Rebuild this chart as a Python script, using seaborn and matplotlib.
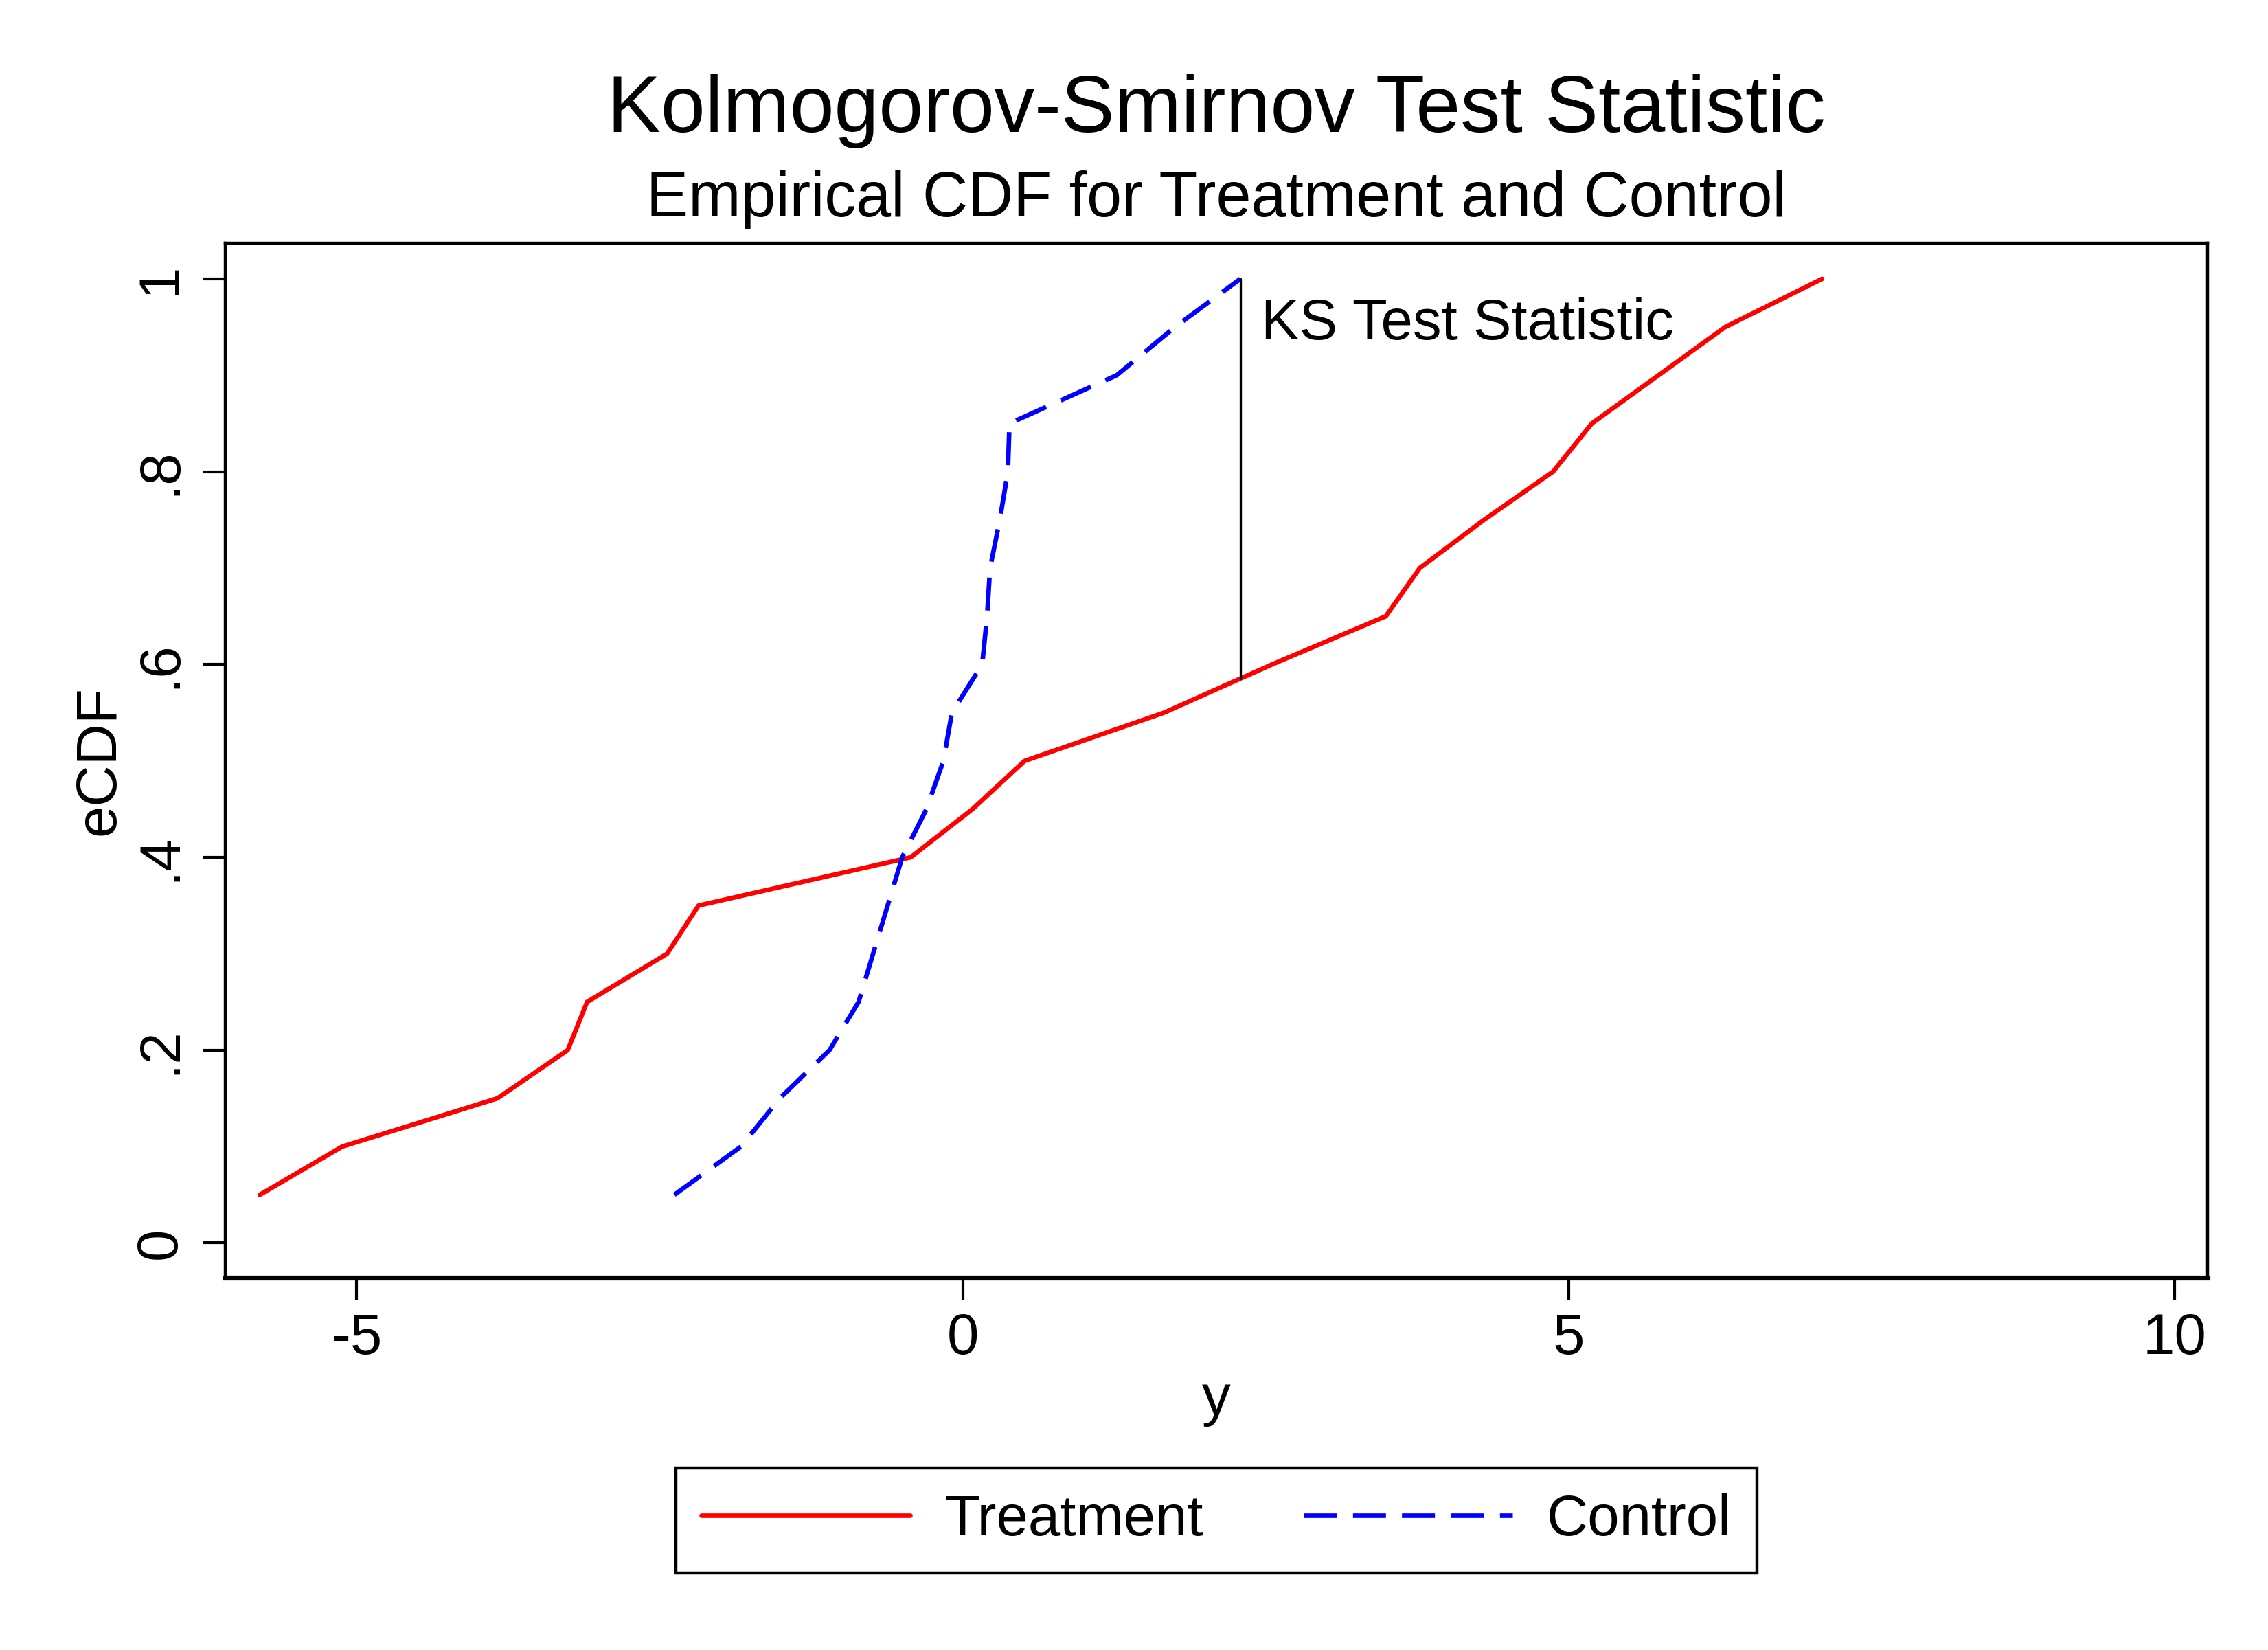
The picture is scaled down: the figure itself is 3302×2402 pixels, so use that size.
import numpy as np
import pandas as pd
import matplotlib
matplotlib.use("Agg")
import matplotlib.pyplot as plt
import seaborn as sns

# ---- data ----
treatment_y = [-5.80, -5.12, -3.84, -3.26, -3.10, -2.44, -2.18, -0.43, 0.08, 0.51,
               1.66, 2.55, 3.49, 3.77, 4.30, 4.87, 5.19, 5.74, 6.29, 7.09]
control_y = [-2.38, -1.83, -1.51, -1.10, -0.86, -0.74, -0.62, -0.50, -0.30, -0.16,
             -0.09, 0.16, 0.20, 0.225, 0.305, 0.372, 0.385, 1.27, 1.75, 2.29]
groups = ["Treatment", "Control"]
x_ticks = [-5, 0, 5, 10]
x_ticklabels = ["-5", "0", "5", "10"]
y_ticks = [0, 0.2, 0.4, 0.6, 0.8, 1.0]
y_ticklabels = ["0", ".2", ".4", ".6", ".8", "1"]
title = "Kolmogorov-Smirnov Test Statistic"
subtitle = "Empirical CDF for Treatment and Control"
ks_label = "KS Test Statistic"


def ecdf_frame(values, name):
    v = np.sort(np.asarray(values, dtype=float))
    n = len(v)
    return pd.DataFrame({"y": v, "eCDF": np.arange(1, n + 1) / n, "group": name})


df = pd.concat([ecdf_frame(treatment_y, "Treatment"),
                ecdf_frame(control_y, "Control")], ignore_index=True)

sns.set_style("ticks")
plt.rcParams["font.family"] = ["Liberation Sans", "DejaVu Sans"]
for k in ["text.color", "axes.labelcolor", "xtick.color", "ytick.color", "axes.edgecolor"]:
    plt.rcParams[k] = "black"

W, H = 3302, 2402
DPI = 200
fig = plt.figure(figsize=(W / DPI, H / DPI), dpi=DPI)
left, right, top, bottom = 328, 3214, 354, 1860
ax = fig.add_axes([left / W, 1 - bottom / H, (right - left) / W, (bottom - top) / H])

LW = 2.4
sns.lineplot(data=df, x="y", y="eCDF", hue="group", style="group",
             hue_order=groups, style_order=groups,
             palette={"Treatment": "#ff0000", "Control": "#0000ff"},
             dashes={"Treatment": "", "Control": (7.2, 3.5)},
             estimator=None, sort=True, linewidth=LW, ax=ax, legend=True)

# KS statistic line
ctrl = np.sort(control_y)
trt = np.sort(treatment_y)
ks_x = ctrl[-1]
ks_top = 1.0
ks_bot = np.interp(ks_x, trt, np.arange(1, len(trt) + 1) / len(trt))
ax.plot([ks_x, ks_x], [ks_bot, ks_top], color="black", lw=1.2)
ax.text(ks_x + 0.17, 0.937, ks_label, fontsize=30, va="baseline", ha="left",
        color="black")

ax.set_xlim(-6.085, 10.27)
ax.set_ylim(-0.036, 1.037)
ax.set_xticks(x_ticks)
ax.set_xticklabels(x_ticklabels)
ax.set_yticks(y_ticks)
ax.set_yticklabels(y_ticklabels, rotation=90, va="center")
ax.tick_params(axis="both", direction="out", length=12, width=1.5,
               labelsize=30, color="black", labelcolor="black")
ax.tick_params(axis="y", pad=8)
ax.tick_params(axis="x", pad=6)
ax.set_xlabel("y", fontsize=30, labelpad=4, color="black")
ax.set_ylabel("eCDF", fontsize=30, labelpad=4, color="black")
for s in ["left", "right", "top"]:
    ax.spines[s].set_linewidth(1.6)
    ax.spines[s].set_color("black")
ax.spines["bottom"].set_linewidth(2.6)
ax.spines["bottom"].set_color("black")

fig.text(1771 / W, 1 - 192 / H, title, fontsize=42, ha="center", va="baseline",
         color="black")
fig.text(1771 / W, 1 - 315 / H, subtitle, fontsize=33, ha="center", va="baseline",
         color="black")

handles, labels = ax.get_legend_handles_labels()
ax.get_legend().remove()
leg = fig.legend(handles, labels, loc="center",
                 bbox_to_anchor=(1771 / W, 1 - 2213 / H),
                 ncol=2, fontsize=30, frameon=True, fancybox=False,
                 edgecolor="black", framealpha=1, handlelength=3.65,
                 handletextpad=0.6, columnspacing=1.75, borderpad=0.45,
                 labelcolor="black")
leg.get_frame().set_linewidth(1.6)
for h in leg.legend_handles:
    h.set_linewidth(LW)

fig.savefig("out.png", dpi=DPI, facecolor="white")
